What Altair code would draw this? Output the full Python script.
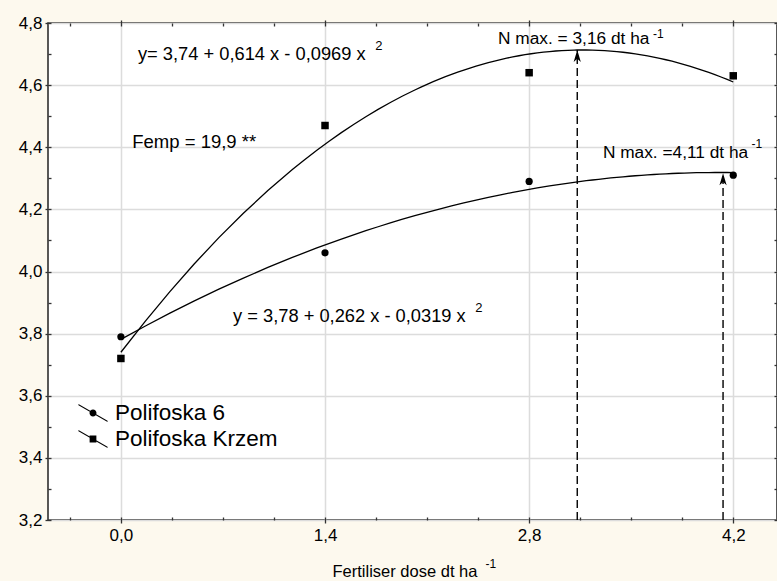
import altair as alt
import pandas as pd

# ---------------- data ----------------
doses = [0.0, 1.4, 2.8, 4.2]
polifoska6 = [3.79, 4.06, 4.29, 4.31]
polifoska_krzem = [3.72, 4.47, 4.64, 4.63]
series_names = ["Polifoska 6", "Polifoska Krzem"]

nmax_x = [3.13, 4.13]
nmax_top = [4.713, 4.316]
nmax_base = [3.2, 3.2]

x_ticks = [-0.35, 0.0, 0.35, 0.7, 1.05, 1.4, 1.75, 2.1, 2.45, 2.8, 3.15, 3.5, 3.85, 4.2]
y_ticks = [3.2, 3.3, 3.4, 3.5, 3.6, 3.7, 3.8, 3.9, 4.0, 4.1, 4.2, 4.3, 4.4, 4.5, 4.6, 4.7, 4.8]

ann_text = ["y= 3,74 + 0,614 x - 0,0969 x", "2", "Femp = 19,9 **",
            "N max. = 3,16 dt ha", "-1", "N max. =4,11 dt ha", "-1",
            "y = 3,78 + 0,262 x - 0,0319 x", "2", "-1"]
ann_x = [0.117, 1.745, 0.078, 2.587, 3.65, 3.306, 4.325, 0.769, 2.43, 2.50]
ann_y = [4.681, 4.713, 4.397, 4.732, 4.752, 4.364, 4.397, 3.836, 3.870, 3.045]
ann_size = [18.3, 13, 18.5, 17.3, 12, 17.3, 12, 18.3, 13, 12]

# ---------------- tables ----------------
df = pd.DataFrame({
    "x": doses + doses,
    "y": polifoska6 + polifoska_krzem,
    "series": [series_names[0]] * len(doses) + [series_names[1]] * len(doses),
})
arrows = pd.DataFrame({"x": nmax_x, "y": nmax_base, "y2": nmax_top})
ann = pd.DataFrame({"x": ann_x, "y": ann_y, "text": ann_text, "fs": ann_size})

FONT = "Liberation Sans"
xs = alt.Scale(domain=[-0.5, 4.5], nice=False, zero=False)
ys = alt.Scale(domain=[3.2, 4.8], nice=False, zero=False)

major_x = "abs(datum.value/1.4 - round(datum.value/1.4)) < 0.001"
major_y = "abs(datum.value*5 - round(datum.value*5)) < 0.001"

common_axis = dict(domain=False, tickColor="#333333", tickWidth=1.3, offset=-3,
                   labelFont=FONT, labelColor="black", labelFlush=False,
                   labelOverlap=False, gridColor="#dcdcdc", gridWidth=1.5)

ax_bottom = alt.Axis(
    orient="bottom", values=x_ticks,
    labelExpr=f"{major_x} ? replace(format(datum.value, '.1f'), '.', ',') : ''",
    grid=True, gridOpacity={"condition": {"test": major_x, "value": 1}, "value": 0},
    tickSize={"condition": {"test": major_x, "value": 6}, "value": 3},
    labelFontSize=17, labelPadding=4,
    title="Fertiliser dose dt ha", titleFont=FONT, titleFontSize=16.5,
    titleFontWeight="normal", titleColor="black", titleAlign="left",
    titleBaseline="alphabetic", titleX=284, titleY=59, titleAnchor="start",
    **common_axis)
ax_left = alt.Axis(
    orient="left", values=y_ticks,
    labelExpr=f"{major_y} ? replace(format(datum.value, '.1f'), '.', ',') : ''",
    grid=True, gridOpacity={"condition": {"test": major_y, "value": 1}, "value": 0},
    tickSize={"condition": {"test": major_y, "value": 6}, "value": 3},
    labelFontSize=17, labelPadding=3, title=None, **common_axis)
ax_top = alt.Axis(
    orient="top", values=x_ticks, labels=False, grid=False, title=None,
    tickSize={"condition": {"test": major_x, "value": 6}, "value": 3},
    **common_axis)
ax_right = alt.Axis(
    orient="right", values=y_ticks, labels=False, grid=False, title=None,
    tickSize={"condition": {"test": major_y, "value": 6}, "value": 3},
    **common_axis)

base = alt.Chart(df)

pts6 = base.transform_filter(f"datum.series == '{series_names[0]}'").mark_point(
    shape="circle", filled=True, color="black", size=52, opacity=1
).encode(x=alt.X("x:Q", scale=xs, axis=ax_bottom), y=alt.Y("y:Q", scale=ys, axis=ax_left))

ptsK = base.transform_filter(f"datum.series == '{series_names[1]}'").mark_point(
    shape="square", filled=True, color="black", size=56, opacity=1
).encode(x=alt.X("x:Q", scale=xs, axis=None), y=alt.Y("y:Q", scale=ys, axis=None))

curves = base.transform_regression(
    "x", "y", groupby=["series"], method="poly", order=2
).mark_line(color="black", strokeWidth=1.3).encode(
    x=alt.X("x:Q", scale=xs, axis=ax_top), y=alt.Y("y:Q", scale=ys, axis=ax_right),
    detail="series:N")

rules = alt.Chart(arrows).mark_rule(color="black", strokeWidth=1.4, strokeDash=[8, 4]).encode(
    x=alt.X("x:Q", scale=xs, axis=None), y=alt.Y("y:Q", scale=ys, axis=None), y2="y2:Q")

arrow_path = "M0,0 L0.3,1 L0,0.72 L-0.3,1 Z"
heads = alt.Chart(arrows).mark_point(shape=arrow_path, filled=True, color="black", size=576, opacity=1).encode(
    x=alt.X("x:Q", scale=xs, axis=None), y=alt.Y("y2:Q", scale=ys, axis=None))

texts = alt.Chart(ann).mark_text(align="left", baseline="alphabetic", font=FONT, color="black").encode(
    x=alt.X("x:Q", scale=xs, axis=None), y=alt.Y("y:Q", scale=ys, axis=None),
    text="text:N", size=alt.Size("fs:Q", scale=None, legend=None))

circ_sym = ("M-1.12,-0.7 L1.12,0.6 L1.12,0.7 L-1.12,-0.6 Z "
            "M0.27,0 A0.27,0.27 0 1,1 -0.27,0 A0.27,0.27 0 1,1 0.27,0 Z")
sq_sym = ("M-1.12,-0.7 L1.12,0.6 L1.12,0.7 L-1.12,-0.6 Z "
          "M-0.26,-0.26 L0.26,-0.26 L0.26,0.26 L-0.26,0.26 Z")
legend_layer = base.transform_filter("false").mark_point(filled=True, color="black", opacity=1).encode(
    x=alt.X("x:Q", scale=xs, axis=None), y=alt.Y("y:Q", scale=ys, axis=None),
    shape=alt.Shape("series:N", scale=alt.Scale(domain=series_names, range=[circ_sym, sq_sym]),
                    legend=alt.Legend(orient="none", legendX=32, legendY=377, title=None,
                                      labelFont=FONT, labelFontSize=22.5, labelColor="black",
                                      labelLimit=400,
                                      symbolSize=676, symbolFillColor="black", symbolStrokeWidth=0,
                                      labelOffset=9, rowPadding=1, padding=0, symbolOffset=0)))

chart = alt.layer(pts6, ptsK, curves, rules, heads, texts, legend_layer).resolve_axis(
    x="independent", y="independent"
).properties(
    width=729, height=497,
    padding={"left": 48, "top": 23, "right": 0, "bottom": 61},
    autosize=alt.AutoSizeParams(type="none"),
    background="#FDF9EE",
).configure_view(stroke="#222222", strokeWidth=1.5, fill="white")

chart.save("out.html", embed_options={"renderer": "svg", "actions": False})
